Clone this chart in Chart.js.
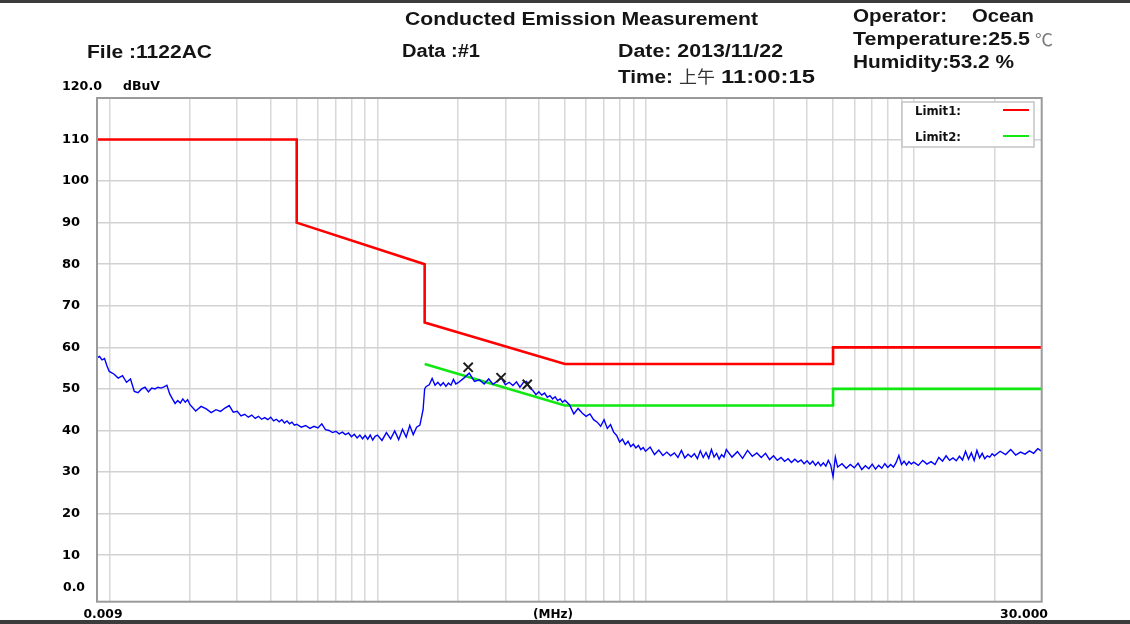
<!DOCTYPE html>
<html>
<head>
<meta charset="utf-8">
<script src="https://cdn.jsdelivr.net/npm/chart.js@4.4.0/dist/chart.umd.min.js"></script>
<style>
  html, body { margin: 0; padding: 0; background: #fff; }
  canvas { display: block; }
</style>
</head>
<body>
<canvas id="chart" width="1130" height="624"></canvas>
<script>
// Limit lines (MHz / dBuV)
const limit1Freq  = [0.009, 0.05, 0.05, 0.15, 0.15, 0.5, 5, 5, 30];
const limit1Level = [110, 110, 90, 80, 66, 56, 56, 60, 60];
const limit2Freq  = [0.15, 0.5, 5, 5, 30];
const limit2Level = [56, 46, 46, 50, 50];

// Peak markers
const markerFreq  = [0.218, 0.289, 0.362];
const markerLevel = [55.2, 52.7, 51.1];

// Measured sweep (MHz)
const traceFreq = [
  0.0090, 0.0092, 0.0094, 0.0096, 0.0098,
  0.0100, 0.0104, 0.0108, 0.0112, 0.0116, 0.0120, 0.0124, 0.0128, 0.0132, 0.0136, 0.0140, 0.0144, 0.0148,
  0.0152, 0.0156, 0.0160, 0.0164, 0.0168, 0.0172, 0.0176, 0.0180, 0.0184, 0.0188, 0.0192, 0.0196,
  0.020, 0.021, 0.022, 0.023, 0.024, 0.025, 0.026, 0.027, 0.028, 0.029, 0.030, 0.031, 0.032, 0.033, 0.034,
  0.035, 0.036, 0.037, 0.038, 0.039, 0.040, 0.041, 0.042, 0.043, 0.044, 0.045, 0.046, 0.047, 0.048, 0.049,
  0.050, 0.052, 0.054, 0.056, 0.058, 0.060, 0.062, 0.064, 0.066, 0.068, 0.070, 0.072, 0.074, 0.076, 0.078,
  0.080, 0.082, 0.084, 0.086, 0.088, 0.090, 0.092, 0.094, 0.096, 0.098,
  0.100, 0.104, 0.108, 0.112, 0.116, 0.120, 0.124, 0.128, 0.132, 0.136, 0.140, 0.144, 0.148, 0.150,
  0.152, 0.156, 0.160, 0.164, 0.168, 0.172, 0.176, 0.180, 0.184, 0.188, 0.192, 0.196,
  0.20, 0.21, 0.22, 0.23, 0.24, 0.25, 0.26, 0.27, 0.28, 0.29, 0.30, 0.31, 0.32, 0.33, 0.34,
  0.35, 0.36, 0.37, 0.38, 0.39, 0.40, 0.41, 0.42, 0.43, 0.44, 0.45, 0.46, 0.47, 0.48, 0.49,
  0.50, 0.52, 0.54, 0.56, 0.58, 0.60, 0.62, 0.64, 0.66, 0.68, 0.70, 0.72, 0.74, 0.76, 0.78,
  0.80, 0.82, 0.84, 0.86, 0.88, 0.90, 0.92, 0.94, 0.96, 0.98,
  1.00, 1.04, 1.08, 1.12, 1.16, 1.20, 1.24, 1.28, 1.32, 1.36, 1.40, 1.44, 1.48, 1.52, 1.56,
  1.60, 1.64, 1.68, 1.72, 1.76, 1.80, 1.84, 1.88, 1.92, 1.96,
  2.0, 2.1, 2.2, 2.3, 2.4, 2.5, 2.6, 2.7, 2.8, 2.9, 3.0, 3.1, 3.2, 3.3, 3.4,
  3.5, 3.6, 3.7, 3.8, 3.9, 4.0, 4.1, 4.2, 4.3, 4.4, 4.5, 4.6, 4.7, 4.8, 4.9,
  5.0, 5.1, 5.2, 5.4, 5.6, 5.8, 6.0, 6.2, 6.4, 6.6, 6.8, 7.0, 7.2, 7.4, 7.6,
  7.8, 8.0, 8.2, 8.4, 8.6, 8.8, 9.0, 9.2, 9.4, 9.6, 9.8,
  10.0, 10.4, 10.8, 11.2, 11.6, 12.0, 12.4, 12.8, 13.2, 13.6, 14.0, 14.4, 14.8, 15.2, 15.6,
  16.0, 16.4, 16.8, 17.2, 17.6, 18.0, 18.4, 18.8, 19.2, 19.6,
  20, 21, 22, 23, 24, 25, 26, 27, 28, 29, 30
];

// Measured sweep (dBuV)
const traceLevel = [
  57.5, 57.8, 57.0, 57.3, 55.6,
  54.2, 53.6, 52.6, 53.2, 51.6, 52.4, 49.4, 49.1, 50.0, 50.4, 49.3, 50.2, 50.0,
  50.4, 50.2, 50.5, 50.9, 48.8, 47.6, 46.5, 47.2, 46.6, 47.6, 46.8, 47.4,
  46.2, 44.7, 45.8, 45.2, 44.3, 45.0, 44.6, 45.4, 46.0, 44.4, 44.6, 43.5, 43.9, 43.2, 43.7,
  42.9, 43.4, 42.7, 43.1, 42.6, 43.2, 42.3, 42.7, 42.1, 42.6, 41.8, 42.3, 41.6, 42.0, 41.3,
  41.5, 40.8, 41.2, 40.5, 41.0, 40.6, 41.6, 40.2, 40.0, 39.5, 39.8, 39.2, 39.6, 39.0, 39.4,
  38.5, 39.1, 38.2, 38.9, 38.0, 38.8, 37.9, 38.9, 37.7, 38.6,
  38.9, 37.6, 39.5, 38.0, 39.9, 37.8, 40.3, 38.4, 41.2, 39.0, 40.8, 41.3, 45.0, 50.0,
  50.6, 51.0, 52.5, 50.9, 51.6, 50.8, 51.5, 50.6, 51.4, 50.9, 52.3, 51.2,
  51.5, 52.6, 53.8, 51.8, 52.2, 51.2, 52.4, 51.1, 51.9, 52.6, 51.0, 51.6, 50.8, 51.7, 50.4,
  51.5, 51.8, 50.2, 49.6, 48.6, 49.3, 48.5, 49.0, 48.0, 48.4, 47.6, 48.1, 47.2, 47.6, 46.8,
  47.3, 46.2, 44.0, 45.3, 44.2, 43.4, 44.0, 42.6, 42.0, 41.0, 42.6, 40.5, 41.4, 39.6, 38.8,
  37.2, 37.9, 36.6, 37.4, 36.1, 36.7, 35.8, 36.4, 35.4, 35.9,
  35.0, 36.0, 34.2, 35.3, 34.0, 34.8, 33.9, 34.6, 33.5, 35.2, 33.4, 34.3, 33.6, 34.4, 33.2,
  35.1, 33.5, 34.7, 33.3, 35.4, 33.6, 34.5, 33.1, 34.2, 33.6,
  35.4, 33.6, 34.9, 33.3, 35.2, 33.8, 34.6, 33.5, 34.5, 33.0, 33.9, 32.8, 33.5, 32.6, 33.2,
  32.3, 33.1, 32.4, 32.9, 32.0, 32.7, 31.9, 32.6, 31.6, 32.4, 31.5, 32.2, 31.4, 32.8, 31.7,
  28.9, 33.6, 31.2, 32.0, 30.9, 31.8, 31.0, 32.1, 30.6, 31.5, 30.8, 31.9, 30.7, 31.6, 30.9,
  32.0, 31.1, 31.8, 31.2, 32.3, 34.0, 31.8, 32.6, 31.7, 32.5, 31.9,
  32.4, 31.6, 32.8, 31.9, 32.5, 31.8, 33.5, 32.6, 33.9, 32.8, 33.4, 32.7, 33.8, 32.9, 35.0,
  33.1, 34.6, 32.8, 35.2, 33.4, 34.5, 33.2, 33.9, 33.6, 34.4,
  33.9, 35.0, 34.2, 35.4, 34.1, 34.8, 34.3, 35.1, 34.5, 35.6, 35.0
];

// Grid positions
const xGridValues = [
  0.01, 0.02, 0.03, 0.04, 0.05, 0.06, 0.07, 0.08, 0.09,
  0.1, 0.2, 0.3, 0.4, 0.5, 0.6, 0.7, 0.8, 0.9,
  1, 2, 3, 4, 5, 6, 7, 8, 9,
  10, 20
];
const yGridValues = [10, 20, 30, 40, 50, 60, 70, 80, 90, 100, 110];

const toPoints = (xs, ys) => xs.map((x, i) => ({ x: x, y: ys[i] }));

// Draws a text run stretched to a given width (the report font is set wide)
function putText(ctx, str, left, baseline, width, font, color) {
  ctx.save();
  ctx.font = font;
  ctx.fillStyle = color;
  ctx.textAlign = 'left';
  ctx.textBaseline = 'alphabetic';
  const w = ctx.measureText(str).width;
  ctx.translate(left, baseline);
  if (width && w > 0) ctx.scale(width / w, 1);
  ctx.fillText(str, 0, 0);
  ctx.restore();
}

const HEAD = 'bold 18px "Liberation Sans", Arial, sans-serif';
const AXIS = 'bold 13px "DejaVu Sans", sans-serif';
const CJK = '17px "Noto Sans CJK SC", sans-serif';

const reportFrame = {
  id: 'reportFrame',
  beforeDraw(chart) {
    const ctx = chart.ctx;
    ctx.save();
    ctx.fillStyle = '#ffffff';
    ctx.fillRect(0, 0, chart.width, chart.height);
    ctx.fillStyle = '#3c3c3c';
    ctx.fillRect(0, 0, chart.width, 3);
    ctx.fillRect(0, 620, chart.width, 4);
    ctx.restore();
  },
  afterDraw(chart) {
    const ctx = chart.ctx;
    const a = chart.chartArea;
    const ys = chart.scales.y;

    // plot frame
    ctx.save();
    ctx.strokeStyle = '#9a9a9a';
    ctx.lineWidth = 2;
    ctx.strokeRect(a.left, a.top, a.right - a.left, a.bottom - a.top);
    ctx.restore();

    // legend box
    const lx = 902, ly = 102, lw = 132, lh = 45;
    ctx.save();
    ctx.fillStyle = '#ffffff';
    ctx.fillRect(lx, ly, lw, lh);
    ctx.strokeStyle = '#c4c4c4';
    ctx.lineWidth = 1.5;
    ctx.strokeRect(lx, ly, lw, lh);
    const legendSets = [chart.data.datasets[2], chart.data.datasets[3]];
    legendSets.forEach((ds, i) => {
      const cy = 110 + i * 26;
      putText(ctx, ds.label, 915, cy + 4.5, 46, 'bold 12px "DejaVu Sans", sans-serif', '#111');
      ctx.strokeStyle = ds.borderColor;
      ctx.lineWidth = 2;
      ctx.beginPath();
      ctx.moveTo(1003, cy);
      ctx.lineTo(1029, cy);
      ctx.stroke();
    });
    ctx.restore();

    // report header
    const ink = '#141414';
    putText(ctx, 'Conducted Emission Measurement', 405, 25, 353, HEAD, ink);
    putText(ctx, 'File :1122AC', 87, 57.5, 125, HEAD, ink);
    putText(ctx, 'Data :#1', 402, 57, 78, HEAD, ink);
    putText(ctx, 'Date: 2013/11/22', 618, 57, 165, HEAD, ink);
    putText(ctx, 'Time:', 618, 83, 55, HEAD, ink);
    putText(ctx, '上午', 679, 83, 36, CJK, '#333');
    putText(ctx, '11:00:15', 721, 83, 94, HEAD, ink);
    putText(ctx, 'Operator:', 853, 21.5, 94, HEAD, ink);
    putText(ctx, 'Ocean', 972, 21.5, 62, HEAD, ink);
    putText(ctx, 'Temperature:25.5', 853, 45, 177, HEAD, ink);
    putText(ctx, '℃', 1035, 45.5, 18, '17px "Noto Sans CJK SC", sans-serif', '#7a7a7a');
    putText(ctx, 'Humidity:53.2 %', 853, 68, 161, HEAD, ink);

    // axis captions
    putText(ctx, '120.0', 62, ys.getPixelForValue(120) - 8.5, 40, AXIS, '#000');
    putText(ctx, 'dBuV', 123, ys.getPixelForValue(120) - 8.5, 37, AXIS, '#000');
    putText(ctx, '0.0', 63, ys.getPixelForValue(0) - 5.5, 22, AXIS, '#000');
    putText(ctx, '0.009', 83.5, 618, 39, AXIS, '#000');
    putText(ctx, '(MHz)', 533, 617.5, 40, 'bold 12px "DejaVu Sans", sans-serif', '#000');
    putText(ctx, '30.000', 1000, 617.5, 48, AXIS, '#000');
  }
};

new Chart(document.getElementById('chart').getContext('2d'), {
  type: 'line',
  data: {
    datasets: [
      {
        label: 'Marker',
        data: toPoints(markerFreq, markerLevel),
        showLine: false,
        pointStyle: 'crossRot',
        pointRadius: 6.5,
        borderColor: '#1e1e1e',
        borderWidth: 2,
        order: 0
      },
      {
        label: 'Level',
        data: toPoints(traceFreq, traceLevel),
        borderColor: '#0000ff',
        borderWidth: 1.4,
        pointRadius: 0,
        tension: 0,
        order: 1
      },
      {
        label: 'Limit1:',
        data: toPoints(limit1Freq, limit1Level),
        borderColor: '#ff0000',
        borderWidth: 2.6,
        pointRadius: 0,
        tension: 0,
        order: 2
      },
      {
        label: 'Limit2:',
        data: toPoints(limit2Freq, limit2Level),
        borderColor: '#11e811',
        borderWidth: 2.6,
        pointRadius: 0,
        tension: 0,
        order: 3
      }
    ]
  },
  options: {
    responsive: false,
    animation: false,
    devicePixelRatio: 1,
    layout: { padding: { left: 62, top: 98, right: 88.3, bottom: 22.3 } },
    plugins: {
      legend: { display: false },
      tooltip: { enabled: false },
      title: { display: false }
    },
    scales: {
      x: {
        type: 'logarithmic',
        min: 0.009,
        max: 30,
        afterBuildTicks: (s) => { s.ticks = xGridValues.map(v => ({ value: v })); },
        ticks: { display: false },
        grid: { color: '#d8d8d8', lineWidth: 1.5, drawTicks: false },
        border: { display: false }
      },
      y: {
        type: 'linear',
        min: -1.2,
        max: 120,
        afterBuildTicks: (s) => { s.ticks = yGridValues.map(v => ({ value: v })); },
        afterFit: (s) => { s.width = 35; },
        ticks: {
          autoSkip: false,
          crossAlign: 'far',
          color: '#000',
          font: { family: "'DejaVu Sans'", weight: 'bold', size: 13 },
          callback: (v) => String(v)
        },
        grid: { color: '#d2d2d2', lineWidth: 1.5, drawTicks: false },
        border: { display: false }
      }
    }
  },
  plugins: [reportFrame]
});
</script>
</body>
</html>
